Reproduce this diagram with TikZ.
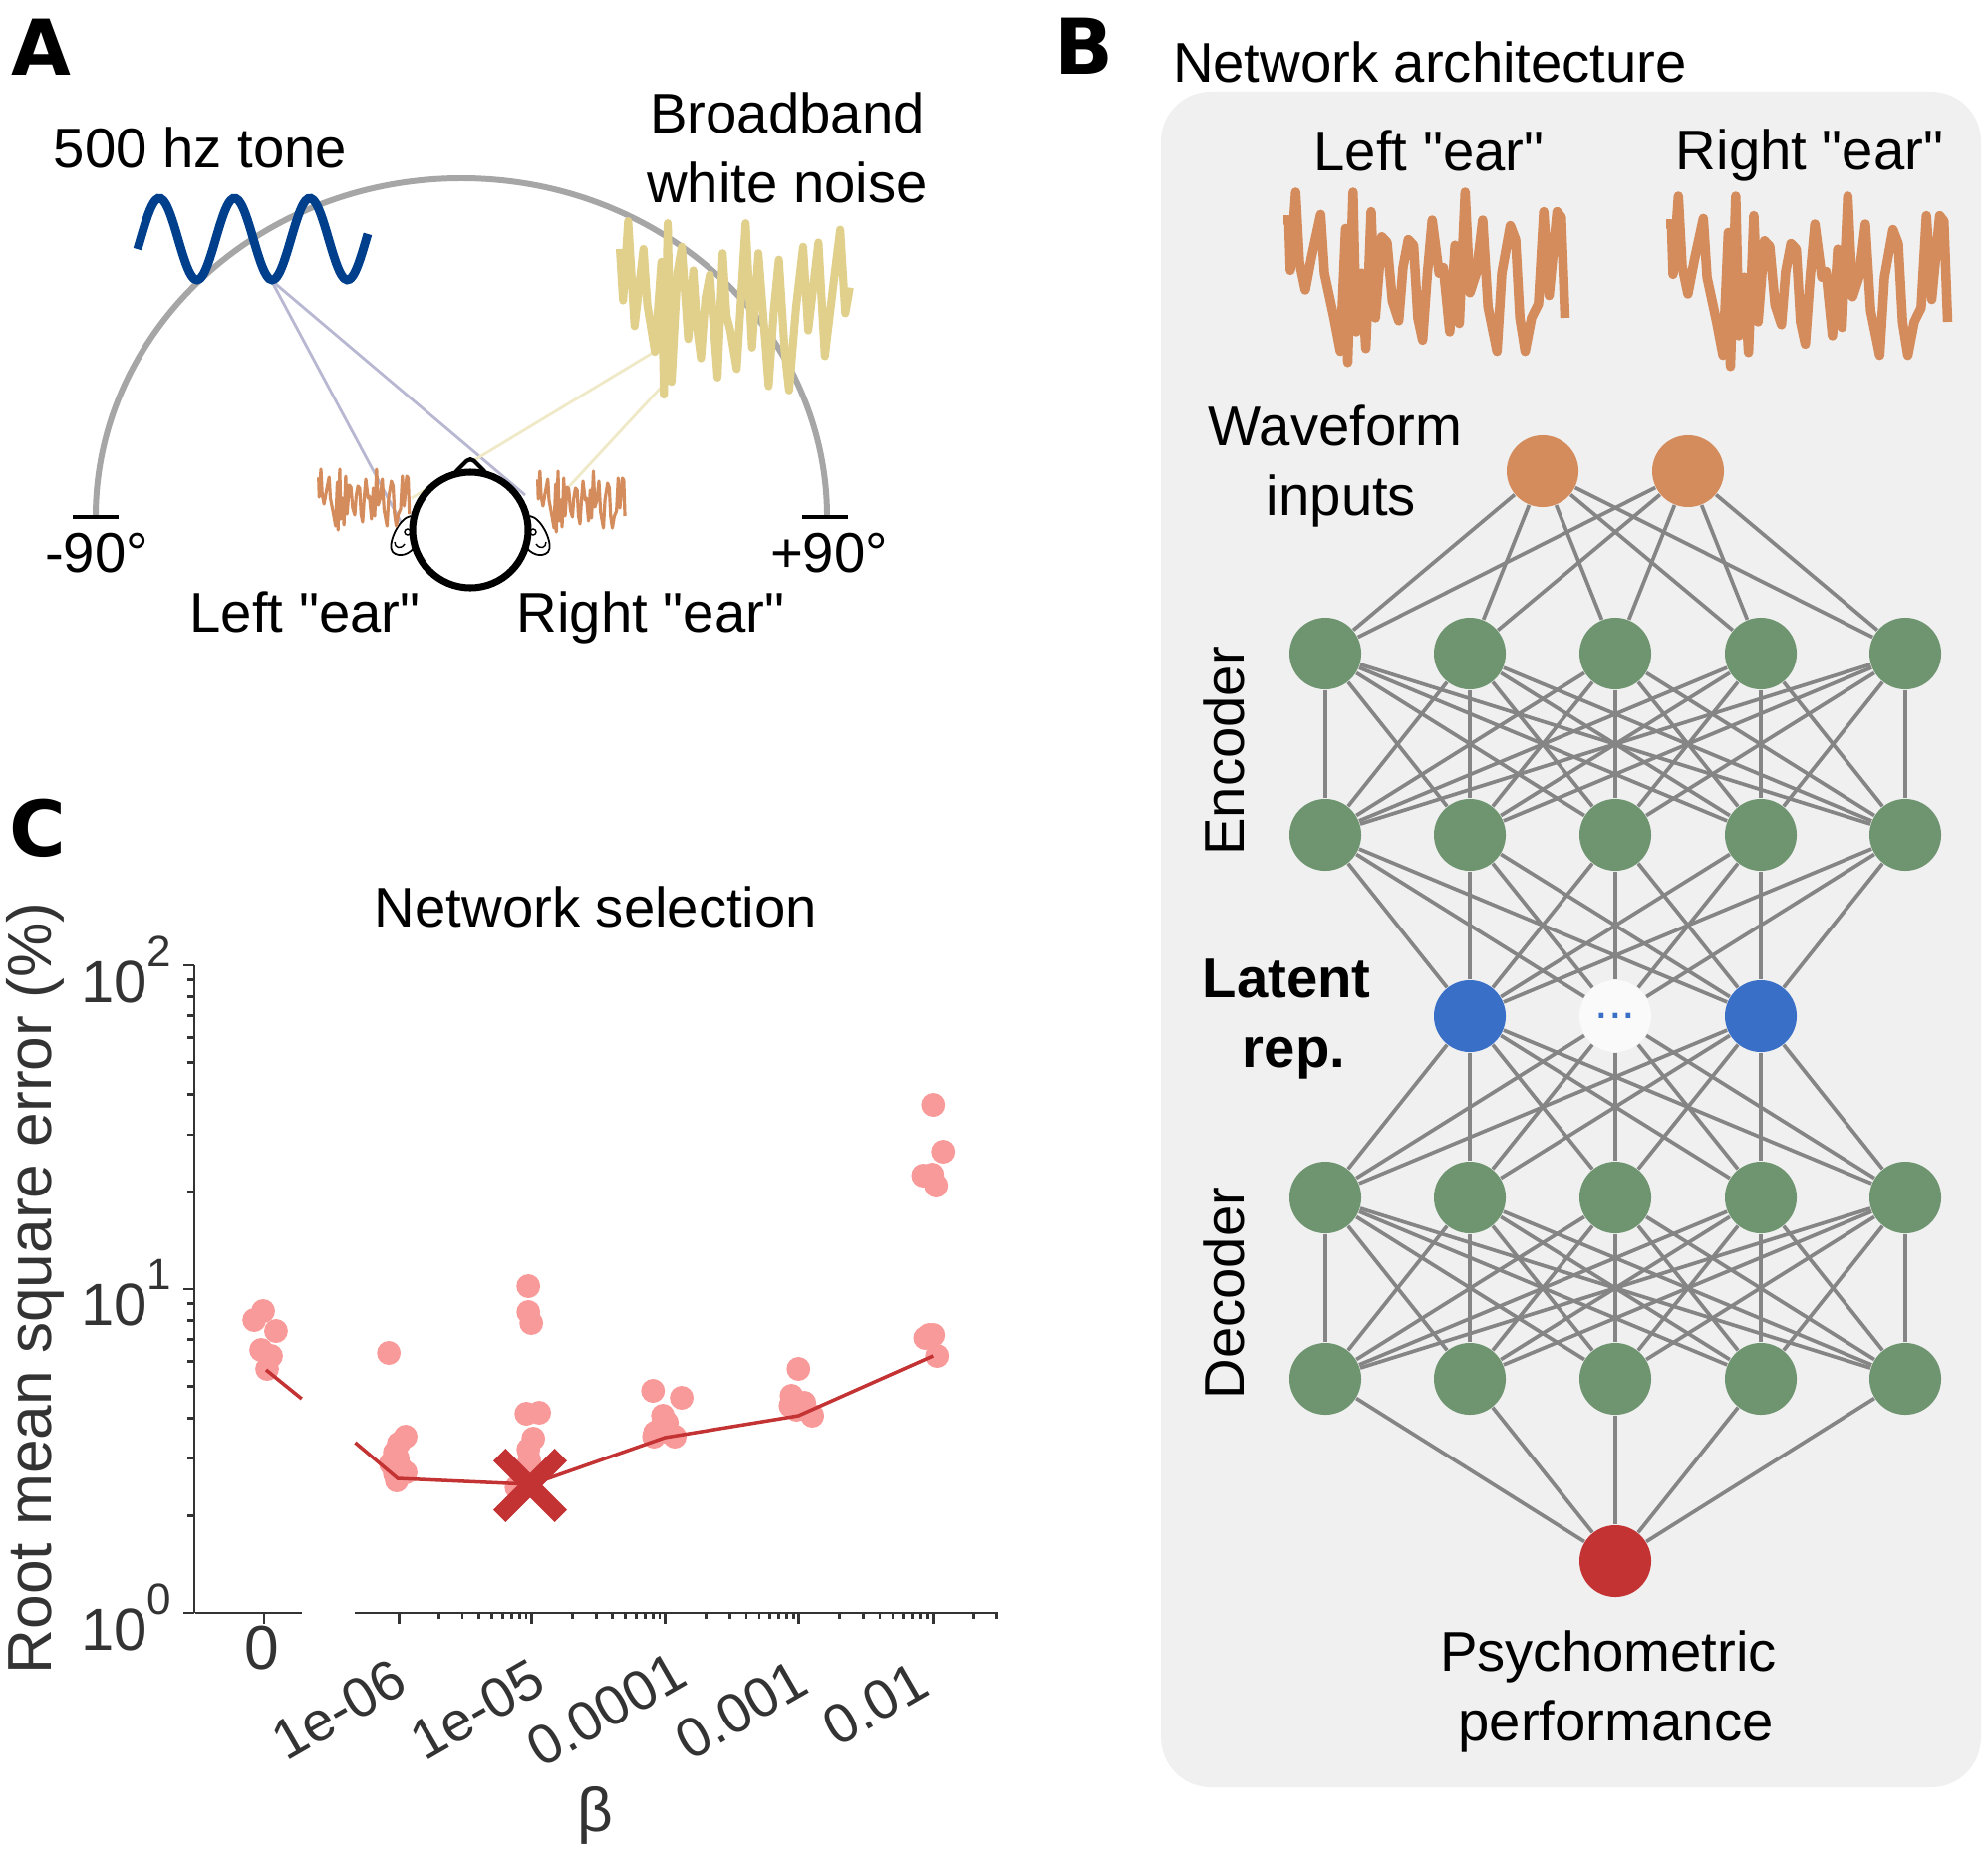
\documentclass[tikz,border=0pt]{standalone}
\usepackage{fontspec}
\setmainfont{Liberation Sans}
\newfontfamily\plainfont{Liberation Sans}
\newfontfamily\panelfont{DejaVu Sans}
\usetikzlibrary{shapes}
\definecolor{panelbg}{HTML}{F0F0F0}
\definecolor{edgegray}{HTML}{858585}
\definecolor{inorange}{HTML}{D48C5C}
\definecolor{nodegreen}{HTML}{6E9470}
\definecolor{latblue}{HTML}{3A6FC8}
\definecolor{outred}{HTML}{C43333}
\definecolor{tonenavy}{HTML}{003F8C}
\definecolor{noisetan}{HTML}{E0D08C}
\definecolor{tonelink}{HTML}{B8B8D2}
\definecolor{noiselink}{HTML}{EFE9C8}
\definecolor{dotpink}{HTML}{F99A9A}
\definecolor{axisdark}{HTML}{333333}
\newcommand{\lblfont}{\plainfont\fontsize{16}{19.9}\selectfont}
\newcommand{\axfont}{\plainfont\fontsize{17.7}{20}\selectfont}
\newcommand{\tickfont}{\plainfont\fontsize{16}{20}\selectfont}
\newcommand{\earwave}{plot coordinates {(0,50) (10,50) (13,140) (23,0) (30,125) (41,175) (53,115) (70,40) (77,145) (95,225) (107,285) (117,65) (121,305) (131,0) (137,250) (147,145) (155,280) (165,35) (173,225) (185,80) (195,90) (205,195) (217,230) (225,135) (235,85) (245,95) (253,225) (262,265) (271,145) (280,50) (293,145) (301,135) (313,250) (323,95) (331,235) (342,0) (351,180) (363,145) (375,50) (385,205) (402,285) (411,145) (427,60) (437,85) (445,225) (455,285) (467,225) (480,200) (490,35) (500,185) (515,35) (523,45) (530,225)}}
\begin{document}
\begin{tikzpicture}[x=0.01cm, y=0.01cm]
        \tikzstyle{every node}+=[inner sep=0pt, font=\lblfont]
        \tikzstyle{nnode}=[circle, minimum size=7.2mm]
        \tikzstyle{edge}=[edgegray, line width=1.05pt]
        \tikzstyle{axtext}=[font=\axfont, text=axisdark]
        \tikzstyle{ticktext}=[font=\tickfont, text=axisdark, rotate=30]
        \tikzstyle{axline}=[axisdark, line width=0.8pt]
        \tikzstyle{dot}=[fill=dotpink]
        \tikzstyle{fitline}=[outred, line width=1pt]
        \useasboundingbox (0,0) rectangle (1995,-1861);

        \node [font=\panelfont\bfseries\fontsize{22}{22}\selectfont] (tagA) at (41,-47) {A};
        \node [font=\panelfont\bfseries\fontsize{22}{22}\selectfont] (tagB) at (1088,-46) {B};
        \node [font=\panelfont\bfseries\fontsize{22}{22}\selectfont] (tagC) at (38,-831) {C};

        \draw [black!35, line width=1.7pt] (96,-519) arc (180:0:367 and 340);
        \draw [black, line width=1pt] (73,-519) -- (119,-519);
        \draw [black, line width=1pt] (805,-519) -- (851,-519);

        \coordinate (tonelow) at (272,-281);
        \coordinate (earL) at (407,-533);
        \coordinate (earR) at (527,-497);
        \coordinate (noiseA) at (660,-351);
        \coordinate (noiseB) at (664,-388);
        \coordinate (noiseC) at (413,-500);
        \coordinate (noiseD) at (565,-495);
        \draw [tonelink, line width=0.8pt] (tonelow) -- (earL);
        \draw [tonelink, line width=0.8pt] (tonelow) -- (earR);
        \draw [noiselink, line width=0.8pt] (noiseA) -- (noiseC);
        \draw [noiselink, line width=0.8pt] (noiseB) -- (noiseD);

        \draw [tonenavy, line width=2.5pt] plot[domain=138:369, samples=90, smooth] (\x,{-240+41*sin((\x-141)/75.5*360)});
        \draw [noisetan, line width=2.3pt, line join=round, shift={(622,-222)}, xscale=.641, yscale=-.43] plot coordinates {(0,65) (5,185) (13,0) (23,245) (37,65) (43,195) (55,305) (65,95) (69,405) (75,5) (79,300) (81,375) (90,120) (97,60) (107,275) (115,115) (121,250) (127,320) (134,180) (141,125) (153,365) (161,75) (167,220) (173,255) (183,345) (197,5) (207,295) (217,75) (233,385) (241,210) (249,90) (258,300) (265,395) (276,200) (287,60) (295,255) (311,50) (321,315) (335,140) (345,20) (353,215) (360,155)};

        \foreach \s in {1,-1} {
        \begin{scope}[shift={(472,-532)}, xscale=\s]
        \draw [black, line width=0.5pt, fill=white] (60,14) .. controls (72,12) and (84,-15) .. (78,-22) .. controls (72,-28) and (60,-25) .. (55,-15);
        \draw [black, line width=0.4pt] (63,-2) circle (3);
        \draw [black, line width=0.4pt] (66,-14) .. controls (70,-20) and (76,-18) .. (76,-12);
        \end{scope}
        }
        \draw [inorange, line width=0.9pt, line join=round, shift={(318,-471)}, xscale=.175, yscale=-.2] \earwave;
        \draw [inorange, line width=0.9pt, line join=round, shift={(538,-473)}, xscale=.168, yscale=-.2] \earwave;
        \draw [black, line width=1.2pt, fill=white, rounded corners=1.5pt] (455,-476) -- (472,-459) -- (489,-476) -- cycle;
        \draw [black, line width=2pt, fill=white] (472,-532) circle (58);

        \node (tonelbl) at (201,-148) {500 hz tone};
        \node [align=center] (noiselbl) at (790,-148) {Broadband\\white noise};
        \node (minus) at (97,-555) {-90°};
        \node (plus) at (832,-555) {+90°};
        \node (leftA) at (306,-614) {Left "ear"};
        \node (rightA) at (653,-620) {Right "ear"};

        \fill [panelbg, rounded corners=5mm] (1165,-92) rectangle (1988,-1794);
        \node (archlbl) at (1435,-62) {Network architecture};
        \node (leftB) at (1434,-151) {Left "ear"};
        \node (rightB) at (1816,-156) {Right "ear"};
        \draw [inorange, line width=2.7pt, line join=round, shift={(1288,-193)}, xscale=.533, yscale=-.56] \earwave;
        \draw [inorange, line width=2.7pt, line join=round, shift={(1672,-197)}, xscale=.533, yscale=-.56] \earwave;
        \node [align=center] (inlbl) at (1340,-468) {Waveform\\\hspace*{1.2mm}inputs};
        \node [rotate=90] (enclbl) at (1228,-754) {Encoder};
        \node [rotate=90] (declbl) at (1228,-1298) {Decoder};
        \node [align=center, font=\lblfont\bfseries] (latlbl) at (1291,-1023) {Latent\\\hspace*{1.5mm}rep.};
        \node [align=center] (outlbl) at (1614,-1698) {Psychometric\\\hspace*{1.5mm}performance};

        \node [nnode, fill=inorange] (in1) at (1548,-473) {};
        \node [nnode, fill=inorange] (in2) at (1694,-473) {};
        \foreach \k/\x in {1/1330,2/1475,3/1621,4/1767,5/1912} {
        \node [nnode, fill=nodegreen] (enca\k) at (\x,-656) {};
        \node [nnode, fill=nodegreen] (encb\k) at (\x,-838) {};
        \node [nnode, fill=nodegreen] (deca\k) at (\x,-1202) {};
        \node [nnode, fill=nodegreen] (decb\k) at (\x,-1384) {};
        }
        \node [nnode, fill=latblue] (lat2) at (1475,-1020) {};
        \node [nnode, fill=white!65!panelbg, text=latblue, font=\plainfont\fontsize{14}{14}\selectfont] (lat3) at (1621,-1020) {...};
        \node [nnode, fill=latblue] (lat4) at (1767,-1020) {};
        \node [nnode, fill=outred] (out) at (1621,-1567) {};

        \foreach \a in {1,...,5} {
        \draw [edge] (in1) -- (enca\a);
        \draw [edge] (in2) -- (enca\a);
        \draw [edge] (decb\a) -- (out);
        \foreach \b in {1,...,5} {
        \draw [edge] (enca\a) -- (encb\b);
        \draw [edge] (deca\a) -- (decb\b);
        }
        \foreach \b in {2,3,4} {
        \draw [edge] (encb\a) -- (lat\b);
        \draw [edge] (lat\b) -- (deca\a);
        }
        }

        \node (sellbl) at (598,-910) {Network selection};
        \node [axtext, rotate=90] (ylbl) at (35,-1293) {Root mean square error (\%)};
        \node [axtext] (xlbl) at (597,-1822) {β};

        \draw [axline] (195,-969) -- (195,-1619);
        \foreach \y/\e in {969/2,1294/1,1619/0} {
        \draw [axline] (195,-\y) -- (184,-\y);
        \node [axtext, anchor=east, font=\plainfont\fontsize{17}{20}\selectfont] (ytick\e) at (173,-\y-4) {10\raisebox{.6em}{\fontsize{12.5}{14}\selectfont \e}};
        }
        \foreach \d in {0,1} \foreach \m in {2,...,9} {
        \draw [axline] (195,{-1619+325*\d+325*log10(\m)}) -- (188,{-1619+325*\d+325*log10(\m)});
        }
        \node [axtext] (tick0) at (263,-1654) {0};
        \node [ticktext] (tick1) at (340,-1716) {1e-06};
        \node [ticktext] (tick2) at (479,-1716) {1e-05};
        \node [ticktext] (tick3) at (608,-1716) {0.0001};
        \node [ticktext] (tick4) at (744,-1716) {0.001};
        \node [ticktext] (tick5) at (878,-1710) {0.01};

        \begin{scope}[shift={(1.9,0)}, xscale=.993]
        \draw [axline] (195,-1619) -- (303,-1619);
        \draw [axline] (357,-1619) -- (1007,-1619);
        \foreach \x in {265,401,535,670,805,941} {
        \draw [axline] (\x,-1619) -- (\x,-1630);
        }
        \foreach \d in {0,1,2,3,4} \foreach \m in {2,...,9} {
        \pgfmathsetmacro{\tx}{401+135*\d+135*log10(\m)}
        \ifdim \tx pt<1007pt
        \draw [axline] (\tx,-1619) -- (\tx,-1625);
        \fi
        }
        \foreach \x/\y in {255/1326,264/1317,277/1337,262/1356,272/1362,268/1375,391/1359,408/1443,401/1450,397/1459,400/1465,393/1470,397/1480,408/1479,399/1487,402/1473,532/1292,532/1318,535/1329,530/1420,543/1419,537/1445,532/1456,533/1467,527/1484,520/1494,533/1480,658/1397,687/1404,668/1422,667/1433,672/1429,660/1439,680/1443,670/1438,659/1443,805/1375,798/1402,811/1409,797/1412,803/1416,819/1422,941/1110,951/1157,931/1181,940/1180,944/1191,937/1341,941/1341,933/1344,945/1362} {
        \fill [dot] (\x,-\y+1) circle (12);
        }
        \coordinate (fa) at (267,-1375);
        \coordinate (fb) at (303,-1404);
        \coordinate (fc) at (357,-1448);
        \coordinate (fd) at (400,-1484);
        \coordinate (fe) at (535,-1490);
        \coordinate (ff) at (670,-1443);
        \coordinate (fg) at (805,-1421);
        \coordinate (fh) at (941,-1361);
        \end{scope}
        \draw [fitline] (fa) -- (fb);
        \draw [fitline] (fc) -- (fd) -- (fe) -- (ff) -- (fg) -- (fh);
        \node [cross out, draw=outred, line width=5pt, minimum size=4.4mm] (best) at (532,-1491) {};
\end{tikzpicture}
\end{document}
